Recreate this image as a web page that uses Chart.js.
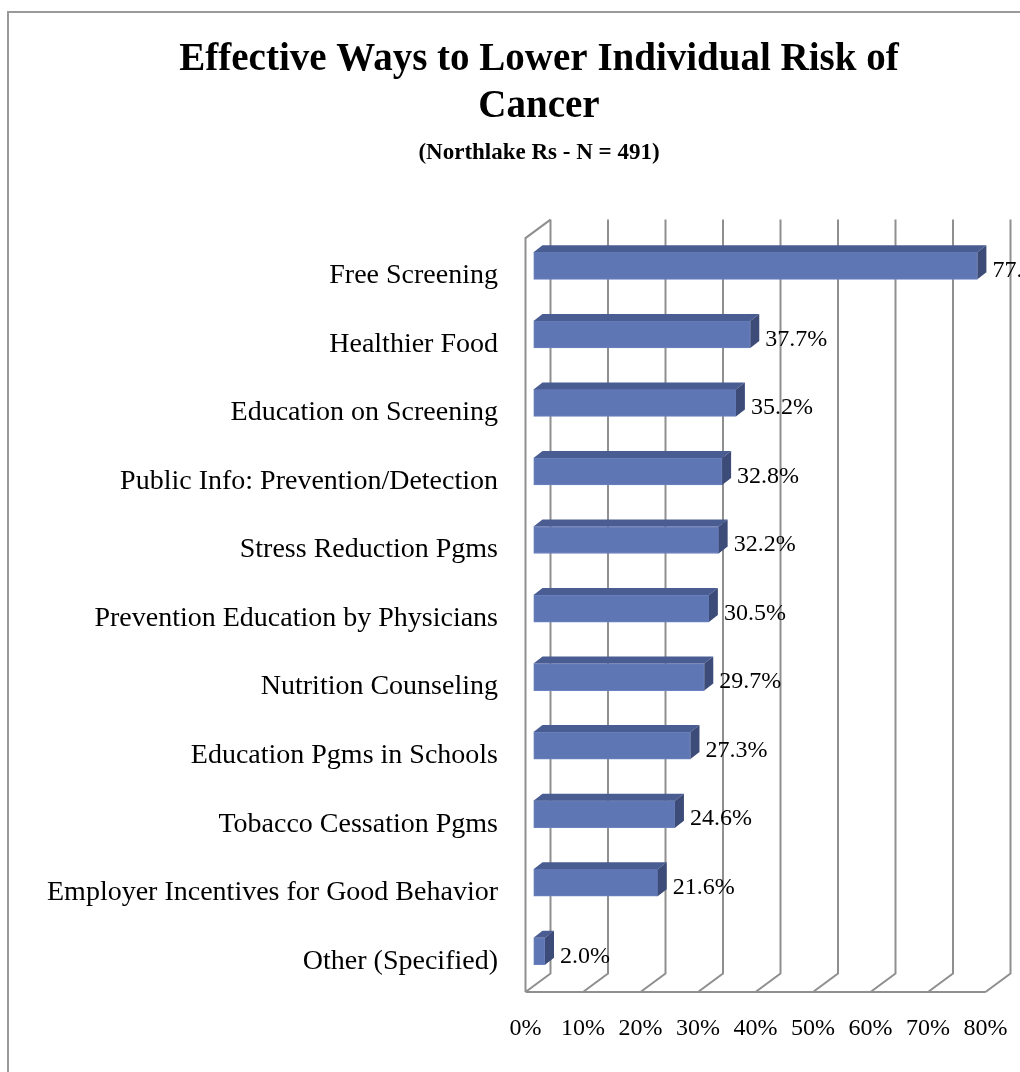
<!DOCTYPE html>
<html>
<head>
<meta charset="utf-8">
<title>Effective Ways to Lower Individual Risk of Cancer</title>
<script src="https://cdn.jsdelivr.net/npm/chart.js@4.4.1/dist/chart.umd.min.js"></script>
<style>
  html, body { margin: 0; padding: 0; background: #fff; }
  #clip { width: 1020px; height: 1072px; overflow: hidden; position: relative; }
  #wrap { width: 1078px; height: 1072px; position: absolute; left: 0; top: 0; }
</style>
</head>
<body>
<div id="clip"><div id="wrap"><canvas id="chart"></canvas></div></div>
<script>
// Effective Ways to Lower Individual Risk of Cancer (Northlake Rs - N = 491)

const categories = [
  'Free Screening',
  'Healthier Food',
  'Education on Screening',
  'Public Info: Prevention/Detection',
  'Stress Reduction Pgms',
  'Prevention Education by Physicians',
  'Nutrition Counseling',
  'Education Pgms in Schools',
  'Tobacco Cessation Pgms',
  'Employer Incentives for Good Behavior',
  'Other (Specified)'
];
const percentValues = [77.2, 37.7, 35.2, 32.8, 32.2, 30.5, 29.7, 27.3, 24.6, 21.6, 2.0];
const xTicks = [0, 10, 20, 30, 40, 50, 60, 70, 80];

const FONT = "'Liberation Serif', 'Times New Roman', serif";
const GRID = '#8f8f8f';
// depth offsets of the fake 3D box, relative to the bar plane
const FRONT = { dx: -8, dy: 6.5 };
const BACK = { dx: 17, dy: -12 };
const BAR_DEPTH = { dx: 9, dy: -7 };

const frame3d = {
  id: 'frame3d',
  beforeDraw(chart) {
    const ctx = chart.ctx;
    ctx.save();
    ctx.strokeStyle = '#9a9a9a';
    ctx.lineWidth = 2;
    ctx.beginPath();
    ctx.moveTo(8, 1200);
    ctx.lineTo(8, 12);
    ctx.lineTo(1071, 12);
    ctx.lineTo(1071, 1200);
    ctx.stroke();
    ctx.restore();
  },
  beforeDatasetsDraw(chart) {
    const { ctx, chartArea: a, scales: { x } } = chart;
    ctx.save();
    ctx.strokeStyle = GRID;
    ctx.lineWidth = 2;
    ctx.beginPath();
    xTicks.forEach(function (v) {
      const px = x.getPixelForValue(v);
      // back wall line
      ctx.moveTo(px + BACK.dx, a.top + BACK.dy);
      ctx.lineTo(px + BACK.dx, a.bottom + BACK.dy);
      // floor diagonal
      ctx.lineTo(px + FRONT.dx, a.bottom + FRONT.dy);
    });
    const x0 = x.getPixelForValue(xTicks[0]);
    const x1 = x.getPixelForValue(xTicks[xTicks.length - 1]);
    // front floor edge
    ctx.moveTo(x0 + FRONT.dx, a.bottom + FRONT.dy);
    ctx.lineTo(x1 + FRONT.dx, a.bottom + FRONT.dy);
    // left wall
    ctx.moveTo(x0 + FRONT.dx, a.bottom + FRONT.dy);
    ctx.lineTo(x0 + FRONT.dx, a.top + FRONT.dy);
    ctx.lineTo(x0 + BACK.dx, a.top + BACK.dy);
    ctx.stroke();
    ctx.restore();
  },
  afterDatasetsDraw(chart) {
    const ctx = chart.ctx;
    const meta = chart.getDatasetMeta(0);
    ctx.save();
    meta.data.forEach(function (bar, i) {
      const h = bar.height;
      const top = bar.y - h / 2, bot = bar.y + h / 2;
      const l = bar.base, r = bar.x;
      const dx = BAR_DEPTH.dx, dy = BAR_DEPTH.dy;
      // top face
      ctx.fillStyle = '#4a5d92';
      ctx.beginPath();
      ctx.moveTo(l, top);
      ctx.lineTo(r, top);
      ctx.lineTo(r + dx, top + dy);
      ctx.lineTo(l + dx, top + dy);
      ctx.closePath();
      ctx.fill();
      // side face
      ctx.fillStyle = '#3c4b78';
      ctx.beginPath();
      ctx.moveTo(r, top);
      ctx.lineTo(r + dx, top + dy);
      ctx.lineTo(r + dx, bot + dy);
      ctx.lineTo(r, bot);
      ctx.closePath();
      ctx.fill();
      // value label
      ctx.fillStyle = '#000';
      ctx.font = '24px ' + FONT;
      ctx.textAlign = 'left';
      ctx.textBaseline = 'middle';
      ctx.fillText(percentValues[i].toFixed(1) + '%', r + 15, bar.y + 5);
    });
    ctx.restore();
  }
};

Chart.defaults.font.family = FONT;
Chart.defaults.color = '#000';

new Chart(document.getElementById('chart'), {
  type: 'bar',
  data: {
    labels: categories,
    datasets: [{
      data: percentValues,
      backgroundColor: '#5f76b4',
      borderColor: '#6b82c0',
      borderWidth: 1,
      borderSkipped: false,
      barThickness: 27
    }]
  },
  options: {
    indexAxis: 'y',
    responsive: true,
    maintainAspectRatio: false,
    animation: false,
    layout: { padding: 0 },
    scales: {
      x: {
        min: 0, max: 80,
        grid: { display: false, drawTicks: false },
        border: { display: false },
        ticks: {
          stepSize: 10,
          padding: 29,
          labelOffset: FRONT.dx,
          maxRotation: 0,
          font: { size: 24 },
          callback: function (v) { return v + '%'; }
        },
        afterFit: function (s) { s.height = 86.5; }
      },
      y: {
        grid: { display: false, drawTicks: false },
        border: { display: false },
        ticks: { padding: 35.5, labelOffset: 10, font: { size: 28 } },
        afterFit: function (s) { s.width = 533.5; }
      },
      // empty right-hand gutter so the title centres on the whole frame
      gutter: {
        type: 'linear',
        position: 'right',
        axis: 'y',
        grid: { display: false, drawTicks: false },
        border: { display: false },
        ticks: { display: false },
        afterFit: function (s) { s.width = 84.5; }
      }
    },
    plugins: {
      legend: { display: false },
      tooltip: { enabled: false },
      title: {
        display: true,
        text: ['Effective Ways to Lower Individual Risk of', 'Cancer'],
        font: { size: 39, weight: 'bold', lineHeight: 1.205 },
        color: '#000',
        padding: { top: 36, bottom: 0 }
      },
      subtitle: {
        display: true,
        text: '(Northlake Rs - N = 491)',
        font: { size: 23, weight: 'bold', lineHeight: 1.2 },
        color: '#000',
        padding: { top: 9, bottom: 65 }
      }
    }
  },
  plugins: [frame3d]
});
</script>
</body>
</html>
